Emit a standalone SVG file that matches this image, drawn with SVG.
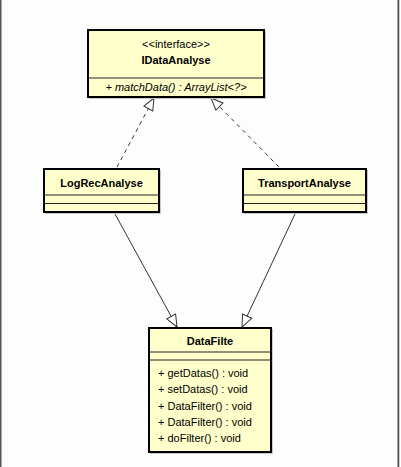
<svg xmlns="http://www.w3.org/2000/svg" width="401" height="467" viewBox="0 0 401 467">
<defs>
<style>
.box{fill:#ffffcc;stroke:#000;stroke-width:2}
.shadow{fill:none;stroke:#c8c8c8;stroke-width:1}
.div{stroke:#222;stroke-width:1}
.t{font-family:"Liberation Sans",Arial,sans-serif;font-size:11px;fill:#000}
.b{font-weight:bold;text-anchor:middle}
.c{text-anchor:middle}
.i{font-style:italic}
.dash{stroke:#333;stroke-width:1;fill:none;stroke-dasharray:4,4}
.solid{stroke:#333;stroke-width:1;fill:none}
</style>
<marker id="tri" viewBox="0 0 14 12" refX="13" refY="6" markerWidth="14" markerHeight="12" markerUnits="userSpaceOnUse" orient="auto">
<path d="M1,1 L13,6 L1,11 Z" fill="#fff" stroke="#333" stroke-width="1"/>
</marker>
</defs>
<rect x="0" y="0" width="401" height="467" fill="#fdfdfd"/>
<rect x="0" y="0" width="1.5" height="467" fill="#555"/>
<rect x="397.5" y="0" width="2" height="467" fill="#4a4a4a"/>
<rect x="399.5" y="0" width="1.5" height="467" fill="#fff"/>

<g id="connectors">
<line class="dash" x1="117" y1="167" x2="154" y2="98" marker-end="url(#tri)"/>
<line class="dash" x1="279" y1="167" x2="211" y2="98" marker-end="url(#tri)"/>
<line class="solid" x1="115" y1="214" x2="177" y2="327" marker-end="url(#tri)"/>
<line class="solid" x1="295" y1="214" x2="242" y2="327" marker-end="url(#tri)"/>
</g>

<g id="IDataAnalyse">
<rect class="shadow" x="89.5" y="31.5" width="176" height="67"/>
<rect class="box" x="88" y="30" width="176" height="67"/>
<line class="div" x1="88" y1="78" x2="264" y2="78"/>
<text class="t c" x="176" y="48">&lt;&lt;interface&gt;&gt;</text>
<text class="t b" x="176" y="64">IDataAnalyse</text>
<text class="t c i" x="176" y="91">+ matchData() : ArrayList&lt;?&gt;</text>
</g>

<g id="LogRecAnalyse">
<rect class="shadow" x="45.5" y="170.5" width="115" height="43"/>
<rect class="box" x="44" y="169" width="115" height="43"/>
<line class="div" x1="44" y1="195" x2="159" y2="195"/>
<line class="div" x1="44" y1="203.5" x2="159" y2="203.5"/>
<text class="t b" x="101.5" y="187">LogRecAnalyse</text>
</g>

<g id="TransportAnalyse">
<rect class="shadow" x="244.5" y="170.5" width="123" height="43"/>
<rect class="box" x="243" y="169" width="123" height="43"/>
<line class="div" x1="243" y1="195" x2="366" y2="195"/>
<line class="div" x1="243" y1="203.5" x2="366" y2="203.5"/>
<text class="t b" x="304.5" y="187">TransportAnalyse</text>
</g>

<g id="DataFilte">
<rect class="shadow" x="150.5" y="329.5" width="122" height="124"/>
<rect class="box" x="149" y="328" width="122" height="124"/>
<line class="div" x1="149" y1="352" x2="271" y2="352"/>
<line class="div" x1="149" y1="360" x2="271" y2="360"/>
<text class="t b" x="210" y="345">DataFilte</text>
<text class="t" x="158" y="377">+ getDatas() : void</text>
<text class="t" x="158" y="393">+ setDatas() : void</text>
<text class="t" x="158" y="410">+ DataFilter() : void</text>
<text class="t" x="158" y="426">+ DataFilter() : void</text>
<text class="t" x="158" y="442">+ doFilter() : void</text>
</g>
</svg>
